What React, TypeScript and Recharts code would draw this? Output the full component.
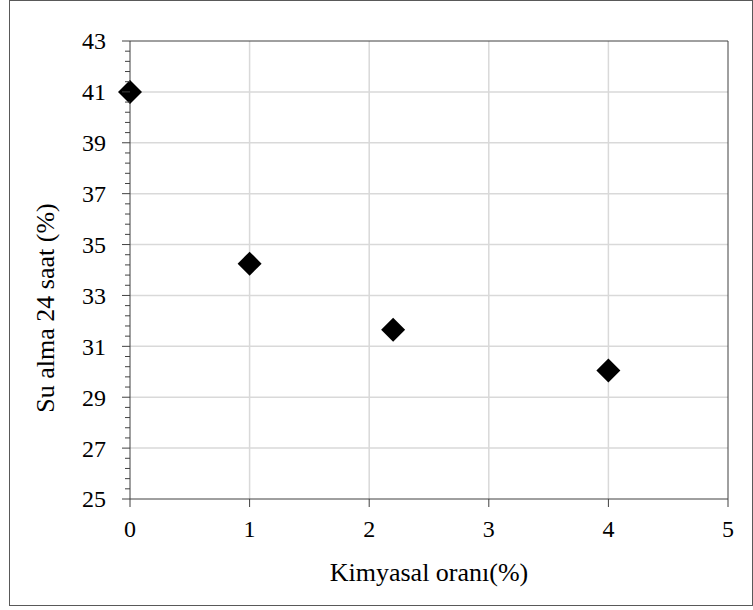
import {
  ScatterChart,
  Scatter,
  XAxis,
  YAxis,
  CartesianGrid,
  ReferenceLine,
} from "recharts";

const kimyasal = [0, 1, 2.2, 4];
const suAlma = [41, 34.25, 31.65, 30.05];

const xTicks = [0, 1, 2, 3, 4, 5];
const yMajorTicks = [25, 27, 29, 31, 33, 35, 37, 39, 41, 43];
const gridY = [27, 29, 31, 33, 35, 37, 39, 41];
const gridX = [1, 2, 3, 4];

// minor ticks every 0.4 between the major ones
const yAllTicks: number[] = [];
for (let i = 0; i < yMajorTicks.length - 1; i++) {
  for (let k = 0; k < 5; k++) {
    yAllTicks.push(Math.round((yMajorTicks[i] + k * 0.4) * 10) / 10);
  }
}
yAllTicks.push(43);

const points = kimyasal.map((x, i) => ({ x, y: suAlma[i] }));

const FONT = "'Liberation Serif', 'Times New Roman', serif";
const AXIS = "#404040";
const GRID = "#d9d9d9";

function YTick(props: any) {
  const { x, y, payload } = props;
  const major = yMajorTicks.includes(payload.value);
  return (
    <g>
      <line x1={x - (major ? 8 : 5)} x2={x} y1={y} y2={y} stroke={AXIS} strokeWidth={1} />
      {major && (
        <text
          x={x - 24}
          y={y}
          dy="0.35em"
          textAnchor="end"
          fontFamily={FONT}
          fontSize={24}
          fill="#000"
        >
          {payload.value}
        </text>
      )}
    </g>
  );
}

function Diamond(props: any) {
  const { cx, cy } = props;
  const r = 12;
  return (
    <polygon
      points={`${cx},${cy - r} ${cx + r},${cy} ${cx},${cy + r} ${cx - r},${cy}`}
      fill="#000"
    />
  );
}

function YLabel(props: any) {
  const { viewBox } = props;
  const cy = viewBox.y + viewBox.height / 2 + 38;
  return (
    <text
      x={45}
      y={cy}
      transform={`rotate(-90, 45, ${cy})`}
      textAnchor="middle"
      dy="0.35em"
      fontFamily={FONT}
      fontSize={26}
      fill="#000"
    >
      Su alma 24 saat (%)
    </text>
  );
}

function XLabel(props: any) {
  const { viewBox } = props;
  const cx = viewBox.x + viewBox.width / 2;
  return (
    <text
      x={cx}
      y={572}
      dy="0.35em"
      textAnchor="middle"
      fontFamily={FONT}
      fontSize={26}
      fill="#000"
    >
      Kimyasal oranı(%)
    </text>
  );
}

export default function App() {
  return (
    <div style={{ position: "absolute", left: 0, top: 0, width: 753, height: 610, background: "#fff" }}>
      <div
        style={{
          position: "absolute",
          left: 9,
          top: 0,
          width: 742,
          height: 604,
          border: "1px solid #595959",
        }}
      />
      <div style={{ position: "absolute", left: 0, top: 0 }}>
        <ScatterChart
          width={753}
          height={610}
          margin={{ top: 41, right: 25, bottom: 71, left: 30 }}
        >
          <CartesianGrid horizontal={false} vertical={false} />
          {gridY.map((v) => (
            <ReferenceLine key={"gy" + v} y={v} stroke={GRID} strokeWidth={1.5} />
          ))}
          {gridX.map((v) => (
            <ReferenceLine key={"gx" + v} x={v} stroke={GRID} strokeWidth={1.5} />
          ))}
          <ReferenceLine y={43} stroke={AXIS} strokeWidth={1} />
          <ReferenceLine x={5} stroke={AXIS} strokeWidth={1} />
          <XAxis
            type="number"
            dataKey="x"
            domain={[0, 5]}
            ticks={xTicks}
            interval={0}
            height={40}
            tickSize={8}
            tickMargin={13}
            stroke={AXIS}
            tick={{ fill: "#000", fontFamily: FONT, fontSize: 24 }}
            label={<XLabel />}
          />
          <YAxis
            type="number"
            dataKey="y"
            domain={[25, 43]}
            ticks={yAllTicks}
            interval={0}
            width={100}
            tickSize={0}
            tickMargin={0}
            tickLine={false}
            stroke={AXIS}
            tick={<YTick />}
            label={<YLabel />}
          />
          <Scatter data={points} shape={<Diamond />} isAnimationActive={false} />
        </ScatterChart>
      </div>
    </div>
  );
}
